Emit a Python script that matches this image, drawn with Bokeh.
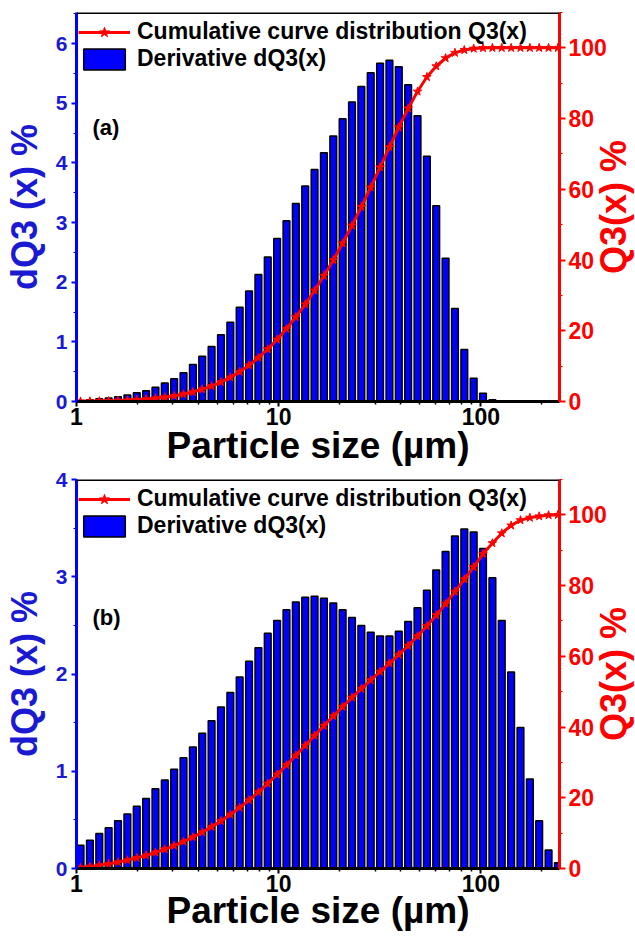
import math
from bokeh.plotting import figure
from bokeh.models import (LinearAxis, Range1d, FixedTicker, Legend, LegendItem, Span,
                          Label, PrintfTickFormatter, ColumnDataSource, SingleIntervalTicker)
from bokeh.layouts import column
from bokeh.embed import file_html
from bokeh.resources import INLINE

# Particle size classes (µm), bar centres
sizes = [1.047, 1.165, 1.296, 1.442, 1.604, 1.785, 1.986, 2.209, 2.458, 2.734,
         3.041, 3.383, 3.764, 4.187, 4.658, 5.183, 5.766, 6.414, 7.136, 7.939,
         8.831, 9.824, 10.93, 12.16, 13.53, 15.05, 16.74, 18.63, 20.72, 23.05,
         25.64, 28.53, 31.74, 35.31, 39.28, 43.70, 48.62, 54.09, 60.17, 66.94,
         74.47, 82.85, 92.17, 102.5, 114.1, 126.9, 141.2, 157.1, 174.8, 194.4,
         216.3, 240.6]

# Panel (a)
dq3_a = [0.017, 0.028, 0.045, 0.06, 0.078, 0.11, 0.145, 0.18, 0.24, 0.31,
         0.38, 0.48, 0.62, 0.76, 0.92, 1.12, 1.33, 1.58, 1.85, 2.13,
         2.42, 2.73, 3.03, 3.32, 3.61, 3.89, 4.17, 4.45, 4.74, 5.02,
         5.28, 5.51, 5.67, 5.72, 5.61, 5.31, 4.79, 4.11, 3.28, 2.40,
         1.56, 0.87, 0.39, 0.14, 0.03, 0, 0, 0, 0, 0, 0, 0]
q3_a = [0.02, 0.05, 0.09, 0.15, 0.23, 0.34, 0.48, 0.66, 0.90, 1.21,
        1.59, 2.07, 2.69, 3.45, 4.37, 5.49, 6.82, 8.40, 10.25, 12.38,
        14.80, 17.53, 20.56, 23.88, 27.49, 31.38, 35.55, 40.00, 44.74, 49.76,
        55.04, 60.55, 66.22, 71.94, 77.55, 82.86, 87.65, 91.76, 94.8, 97.1,
        98.6, 99.4, 99.8, 99.95, 100, 100, 100, 100, 100, 100, 100, 100]

# Panel (b)
dq3_b = [0.24, 0.29, 0.36, 0.42, 0.49, 0.56, 0.64, 0.72, 0.82, 0.91,
         1.02, 1.14, 1.25, 1.39, 1.52, 1.66, 1.81, 1.97, 2.13, 2.27,
         2.42, 2.55, 2.66, 2.74, 2.79, 2.80, 2.78, 2.73, 2.66, 2.58,
         2.50, 2.43, 2.39, 2.39, 2.44, 2.54, 2.68, 2.86, 3.07, 3.26,
         3.42, 3.49, 3.46, 3.29, 2.99, 2.55, 2.02, 1.45, 0.92, 0.49,
         0.19, 0.06]
q3_b = [0.24, 0.53, 0.89, 1.31, 1.80, 2.36, 3.00, 3.72, 4.54, 5.45,
        6.47, 7.61, 8.86, 10.25, 11.77, 13.43, 15.24, 17.21, 19.34, 21.61,
        24.03, 26.58, 29.24, 31.98, 34.77, 37.57, 40.35, 43.08, 45.74, 48.32,
        50.82, 53.25, 55.64, 58.03, 60.47, 63.01, 65.69, 68.55, 71.62, 74.88,
        78.30, 81.79, 85.25, 89.0, 92.0, 94.8, 97.0, 98.5, 99.2, 99.6,
        99.9, 100]

x_ticks = [1, 10, 100]
x_minor = [2, 3, 4, 5, 6, 7, 8, 9, 20, 30, 40, 50, 60, 70, 80, 90, 200]

FONT = "Liberation Sans"
BLUE = "#0000ff"
BLUE_TXT = "#1a1ad2"
RED = "#ff0000"
BAR_HALF = 1.039  # bar half-width ratio on the log axis
FW, FH = 483, 389


def make_panel(dq, q3, ymax, tag, tag_y, top, xlabel_standoff):
    p = figure(frame_width=FW, frame_height=FH, x_axis_type="log",
               x_range=Range1d(1, 245), y_range=Range1d(0, ymax),
               output_backend="svg", toolbar_location=None,
               min_border_top=top, min_border_left=76, min_border_right=76,
               min_border_bottom=10)
    p.extra_y_ranges = {"q3": Range1d(0, 110)}
    p.grid.visible = False
    p.outline_line_color = None
    p.background_fill_color = "white"

    src = ColumnDataSource(dict(
        left=[s / BAR_HALF for s in sizes],
        right=[s * BAR_HALF for s in sizes],
        top=dq, x=sizes, q3=q3))

    bars = p.quad(left="left", right="right", bottom=0, top="top", source=src,
                  fill_color=BLUE, line_color="black", line_width=1.5)
    ln = p.line("x", "q3", source=src, y_range_name="q3", line_color=RED, line_width=3)
    st = p.scatter("x", "q3", source=src, y_range_name="q3", marker="star",
                   size=9, fill_color=RED, line_color=RED)

    # bottom axis
    xa = p.xaxis[0]
    xa.ticker = FixedTicker(ticks=x_ticks, minor_ticks=x_minor)
    xa.formatter = PrintfTickFormatter(format="%d")
    xa.axis_label = "Particle size (µm)"
    xa.axis_label_text_font = FONT
    xa.axis_label_text_font_style = "bold"
    xa.axis_label_text_font_size = "37px"
    xa.axis_label_text_color = "black"
    xa.axis_label_standoff = xlabel_standoff
    xa.major_label_text_font = FONT
    xa.major_label_text_font_style = "bold"
    xa.major_label_text_font_size = "23px"
    xa.major_label_text_color = "black"
    xa.major_label_standoff = 1
    xa.axis_line_width = 3
    xa.axis_line_color = "black"
    xa.major_tick_in = 0
    xa.major_tick_out = 5
    xa.minor_tick_in = 0
    xa.minor_tick_out = 3
    xa.major_tick_line_width = 2
    xa.minor_tick_line_width = 1.5

    # top frame line
    p.add_layout(Span(location=ymax, dimension="width", line_color="black", line_width=3))

    # left axis
    ya = p.yaxis[0]
    ya.ticker = SingleIntervalTicker(interval=1, num_minor_ticks=2)
    ya.axis_label = "dQ3 (x) %"
    ya.axis_label_text_font = FONT
    ya.axis_label_text_font_style = "bold"
    ya.axis_label_text_font_size = "36px"
    ya.axis_label_text_color = BLUE_TXT
    ya.axis_label_standoff = 8
    ya.major_label_text_font = FONT
    ya.major_label_text_font_style = "bold"
    ya.major_label_text_font_size = "21px"
    ya.major_label_text_color = BLUE_TXT
    ya.major_label_standoff = 4
    ya.axis_line_width = 3
    ya.axis_line_color = BLUE
    ya.major_tick_line_color = BLUE
    ya.minor_tick_line_color = BLUE
    ya.major_tick_in = 0
    ya.major_tick_out = 5
    ya.minor_tick_in = 0
    ya.minor_tick_out = 3
    ya.major_tick_line_width = 2

    # right axis (its title is drawn as a label in the right panel)
    ra = LinearAxis(y_range_name="q3",
                    ticker=SingleIntervalTicker(interval=20, num_minor_ticks=2))
    ra.major_label_text_font = FONT
    ra.major_label_text_font_style = "bold"
    ra.major_label_text_font_size = "23px"
    ra.major_label_text_color = RED
    ra.major_label_standoff = 3
    ra.axis_line_width = 3
    ra.axis_line_color = RED
    ra.major_tick_line_color = RED
    ra.minor_tick_line_color = RED
    ra.major_tick_in = 0
    ra.major_tick_out = 6
    ra.minor_tick_in = 0
    ra.minor_tick_out = 3
    ra.major_tick_line_width = 2
    p.add_layout(ra, "right")

    p.add_layout(Label(x=4, y=FH / 2, x_units="screen", y_units="screen",
                       text="Q3(x) %", angle=math.pi / 2, text_font=FONT,
                       text_font_style="bold", text_font_size="36px",
                       text_color=RED, text_align="center", text_baseline="middle"),
                 "right")

    legend = Legend(items=[
        LegendItem(label="Cumulative curve distribution Q3(x)", renderers=[ln, st]),
        LegendItem(label="Derivative dQ3(x)", renderers=[bars]),
    ], location=(2, FH - 8 - 52), label_text_font=FONT, label_text_font_style="bold",
        label_text_font_size="23px", label_text_color="black",
        glyph_width=52, glyph_height=26, spacing=0, padding=0, margin=0,
        label_standoff=7, label_height=26,
        background_fill_alpha=0, border_line_alpha=0)
    p.add_layout(legend)

    p.add_layout(Label(x=1.2, y=tag_y, text=tag, text_font=FONT,
                       text_font_style="bold", text_font_size="22px",
                       text_color="black", text_baseline="middle"))
    return p


pa = make_panel(dq3_a, q3_a, 6.52, "(a)", 4.6, 12, -3)
pb = make_panel(dq3_b, q3_b, 4.0, "(b)", 2.58, 11, -5)

layout = column(pa, pb, spacing=0)
open("out.html", "w").write(file_html(layout, INLINE))
